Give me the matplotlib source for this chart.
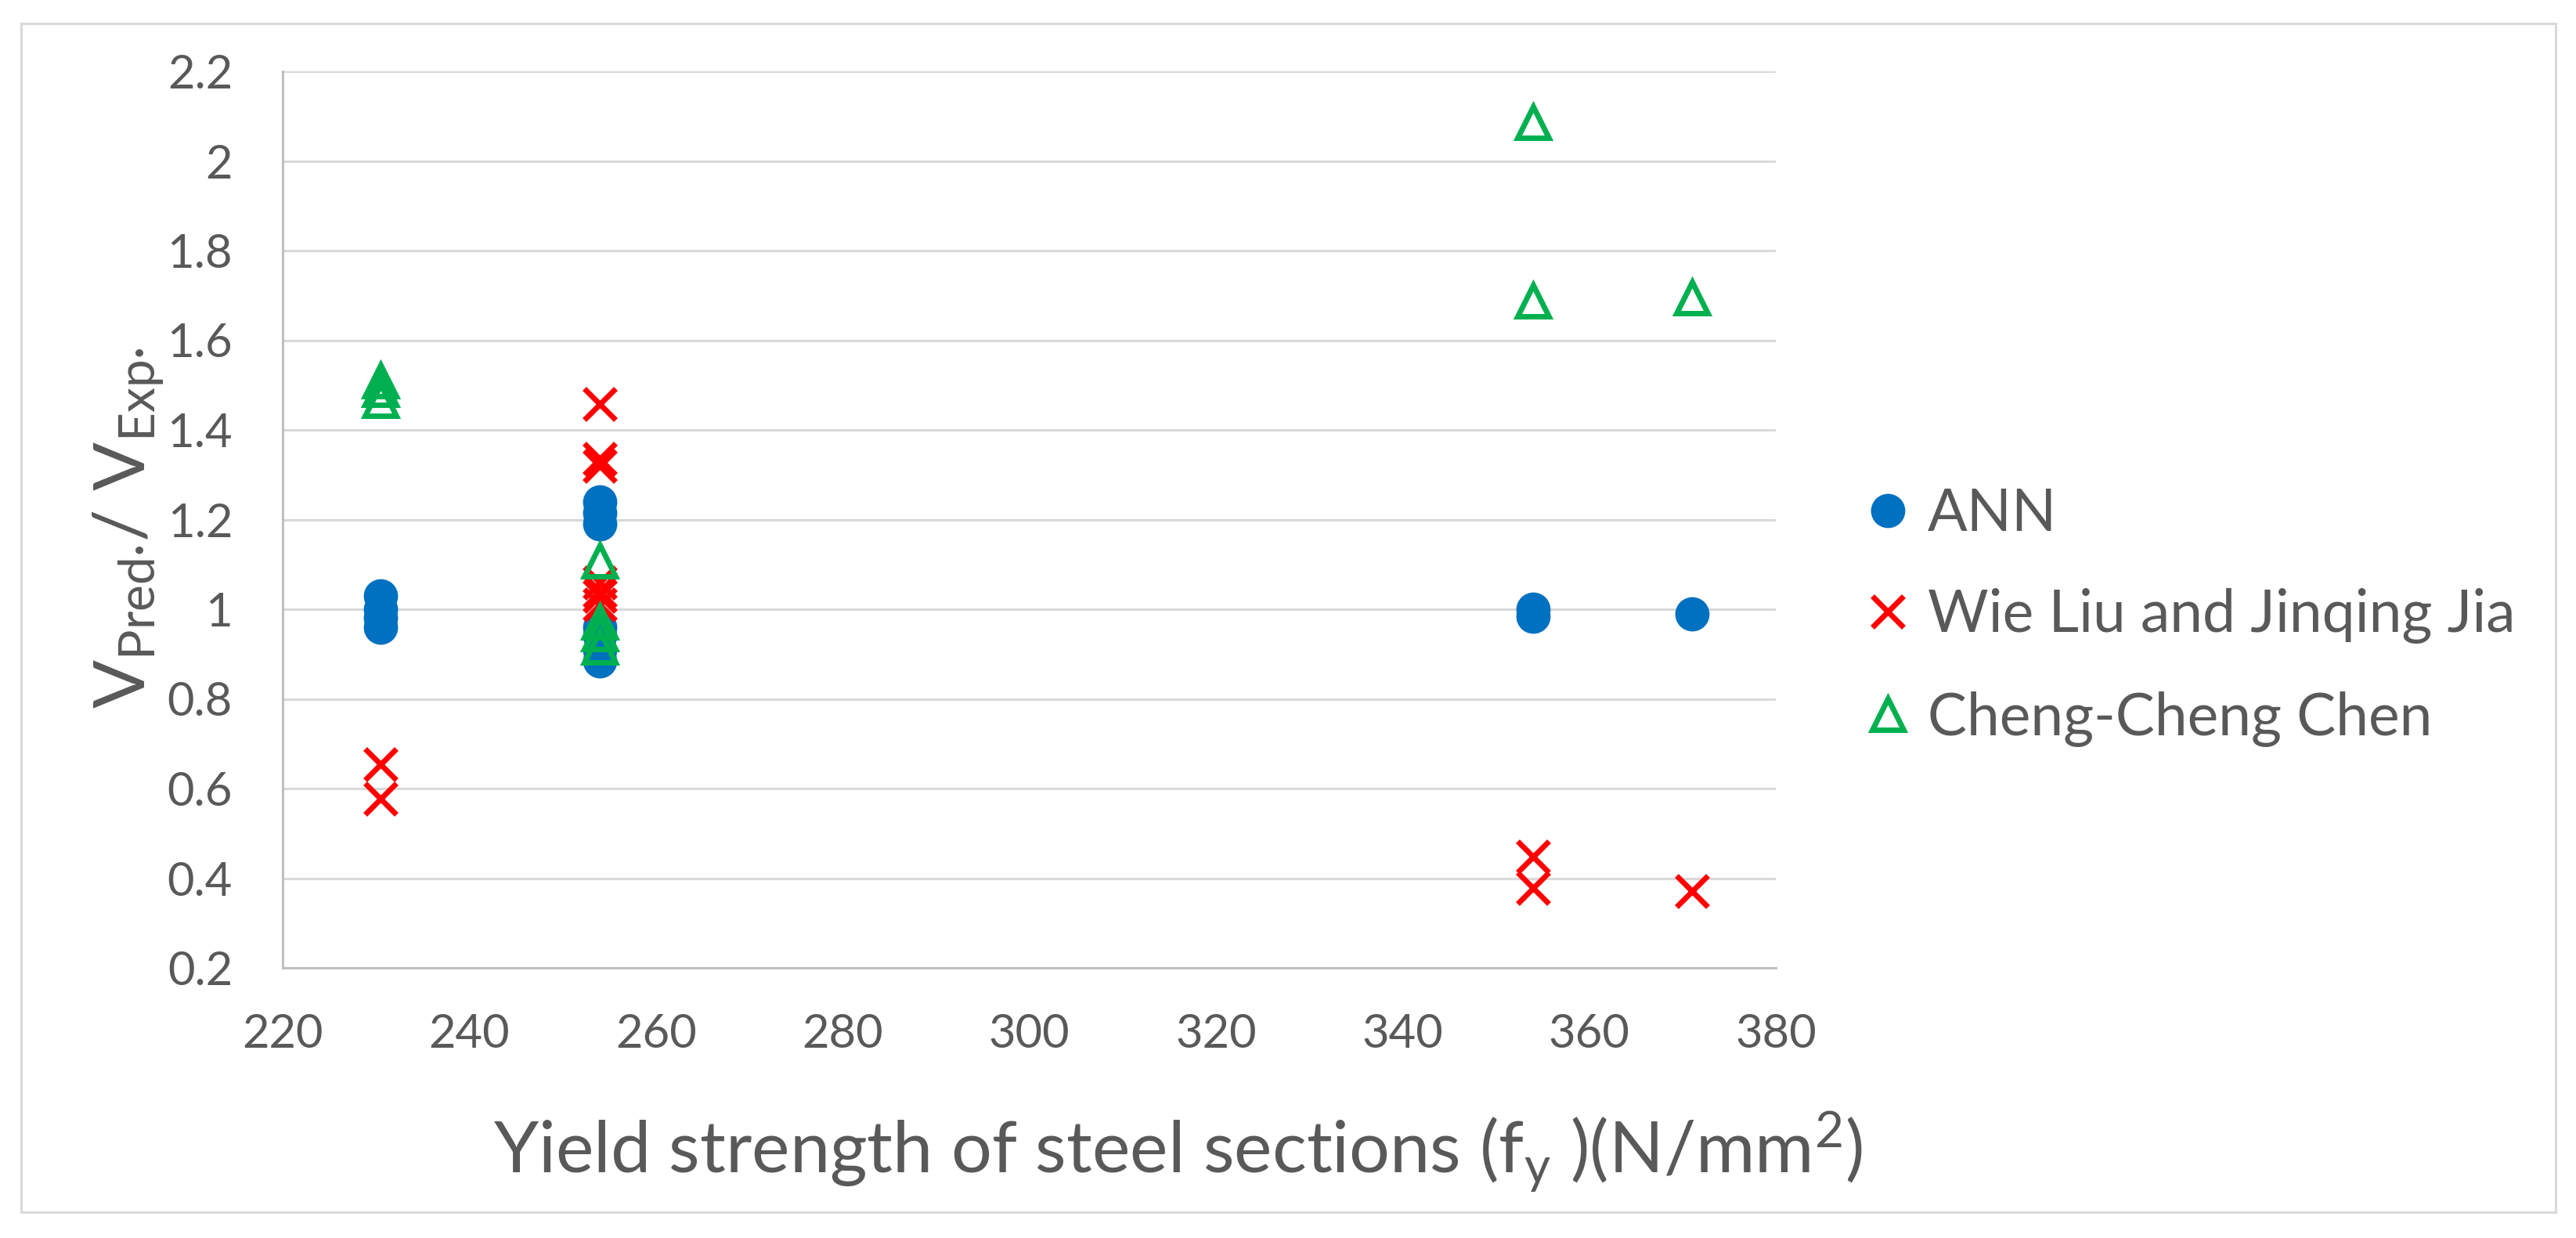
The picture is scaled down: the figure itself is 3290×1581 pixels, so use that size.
import matplotlib
matplotlib.use("Agg")
import matplotlib.pyplot as plt
from matplotlib.patches import Rectangle

# ---------------- data ----------------
ann_fy = [230.5, 230.5, 230.5, 230.5, 254, 254, 254, 254, 254, 254, 254, 354, 354, 371]
ann_ratio = [1.03, 1.00, 0.98, 0.96, 1.24, 1.215, 1.19, 0.96, 0.94, 0.91, 0.885, 1.00, 0.985, 0.99]

liu_fy = [230.5, 230.5, 254, 254, 254, 254, 254, 254, 254, 354, 354, 371]
liu_ratio = [0.655, 0.578, 1.458, 1.335, 1.32, 1.06, 1.04, 1.03, 1.01, 0.448, 0.378, 0.372]

chen_fy = [230.5, 230.5, 230.5, 254, 254, 254, 254, 354, 354, 371]
chen_ratio = [1.51, 1.49, 1.467, 1.108, 0.972, 0.945, 0.917, 2.086, 1.688, 1.695]

series_names = ["ANN", "Wie Liu and Jinqing Jia", "Cheng-Cheng Chen"]
x_ticks = [220, 240, 260, 280, 300, 320, 340, 360, 380]
y_ticks = [0.2, 0.4, 0.6, 0.8, 1.0, 1.2, 1.4, 1.6, 1.8, 2.0, 2.2]
y_tick_labels = ["0.2", "0.4", "0.6", "0.8", "1", "1.2", "1.4", "1.6", "1.8", "2", "2.2"]

# ---------------- style ----------------
TXT = "#595959"
plt.rcParams["font.family"] = ["Lato", "DejaVu Sans"]
plt.rcParams["mathtext.fontset"] = "custom"
plt.rcParams["mathtext.rm"] = "Lato"
plt.rcParams["mathtext.it"] = "Lato"
plt.rcParams["mathtext.default"] = "rm"

W, H = 3290, 1581
fig = plt.figure(figsize=(W / 100, H / 100), dpi=100)
fig.patch.set_facecolor("white")

# outer chart border
fig.patches.append(Rectangle((27 / W, 1 - 1548 / H), (3264 - 27) / W, (1548 - 30) / H,
                             transform=fig.transFigure, fill=False,
                             edgecolor="#D9D9D9", linewidth=2.2))

ax = fig.add_axes([361 / W, 1 - 1236 / H, (2268 - 361) / W, (1236 - 91) / H])

h1, = ax.plot(ann_fy, ann_ratio, linestyle="none", marker="o", markersize=31.5,
              color="#0070C0", markeredgewidth=0, label=series_names[0], zorder=3)
h2, = ax.plot(liu_fy, liu_ratio, linestyle="none", marker="x", markersize=29,
              color="#FF0000", markeredgewidth=5, label=series_names[1], zorder=4)
h3, = ax.plot(chen_fy, chen_ratio, linestyle="none", marker="^", markersize=29,
              markerfacecolor="none", markeredgecolor="#00B050", markeredgewidth=5,
              label=series_names[2], zorder=5)

ax.set_xlim(220, 380)
ax.set_ylim(0.2, 2.2)
ax.set_xticks(x_ticks)
ax.set_yticks(y_ticks)
ax.set_yticklabels(y_tick_labels)
ax.tick_params(axis="both", length=0, labelsize=43, labelcolor=TXT)
ax.tick_params(axis="y", pad=46)
ax.tick_params(axis="x", pad=42)

ax.grid(axis="y", color="#D9D9D9", linewidth=2.2, zorder=0)
ax.set_axisbelow(True)
for s in ("top", "right"):
    ax.spines[s].set_visible(False)
for s in ("left", "bottom"):
    ax.spines[s].set_color("#BFBFBF")
    ax.spines[s].set_linewidth(2.2)

ax.set_xlabel(r"Yield strength of steel sections (f$_{y}$ )(N/mm$^{2}$)", fontsize=66, color=TXT)
ax.xaxis.set_label_coords(0.5994, -0.158)
ax.set_ylabel("V$_{\\mathrm{Pred\u00b7}}$/ V$_{\\mathrm{Exp\u00b7}}$", fontsize=66, color=TXT)
ax.yaxis.set_label_coords(-0.078, 0.49)

leg = fig.legend(handles=[h1, h2, h3], loc="center left",
                 bbox_to_anchor=(2385 / W, 1 - 788 / H), frameon=False,
                 fontsize=54, labelcolor=TXT, handlelength=0.7, handletextpad=0.33,
                 labelspacing=0.8, borderaxespad=0, borderpad=0, markerscale=1.0)

fig.savefig("out.png", dpi=100, facecolor="white")
